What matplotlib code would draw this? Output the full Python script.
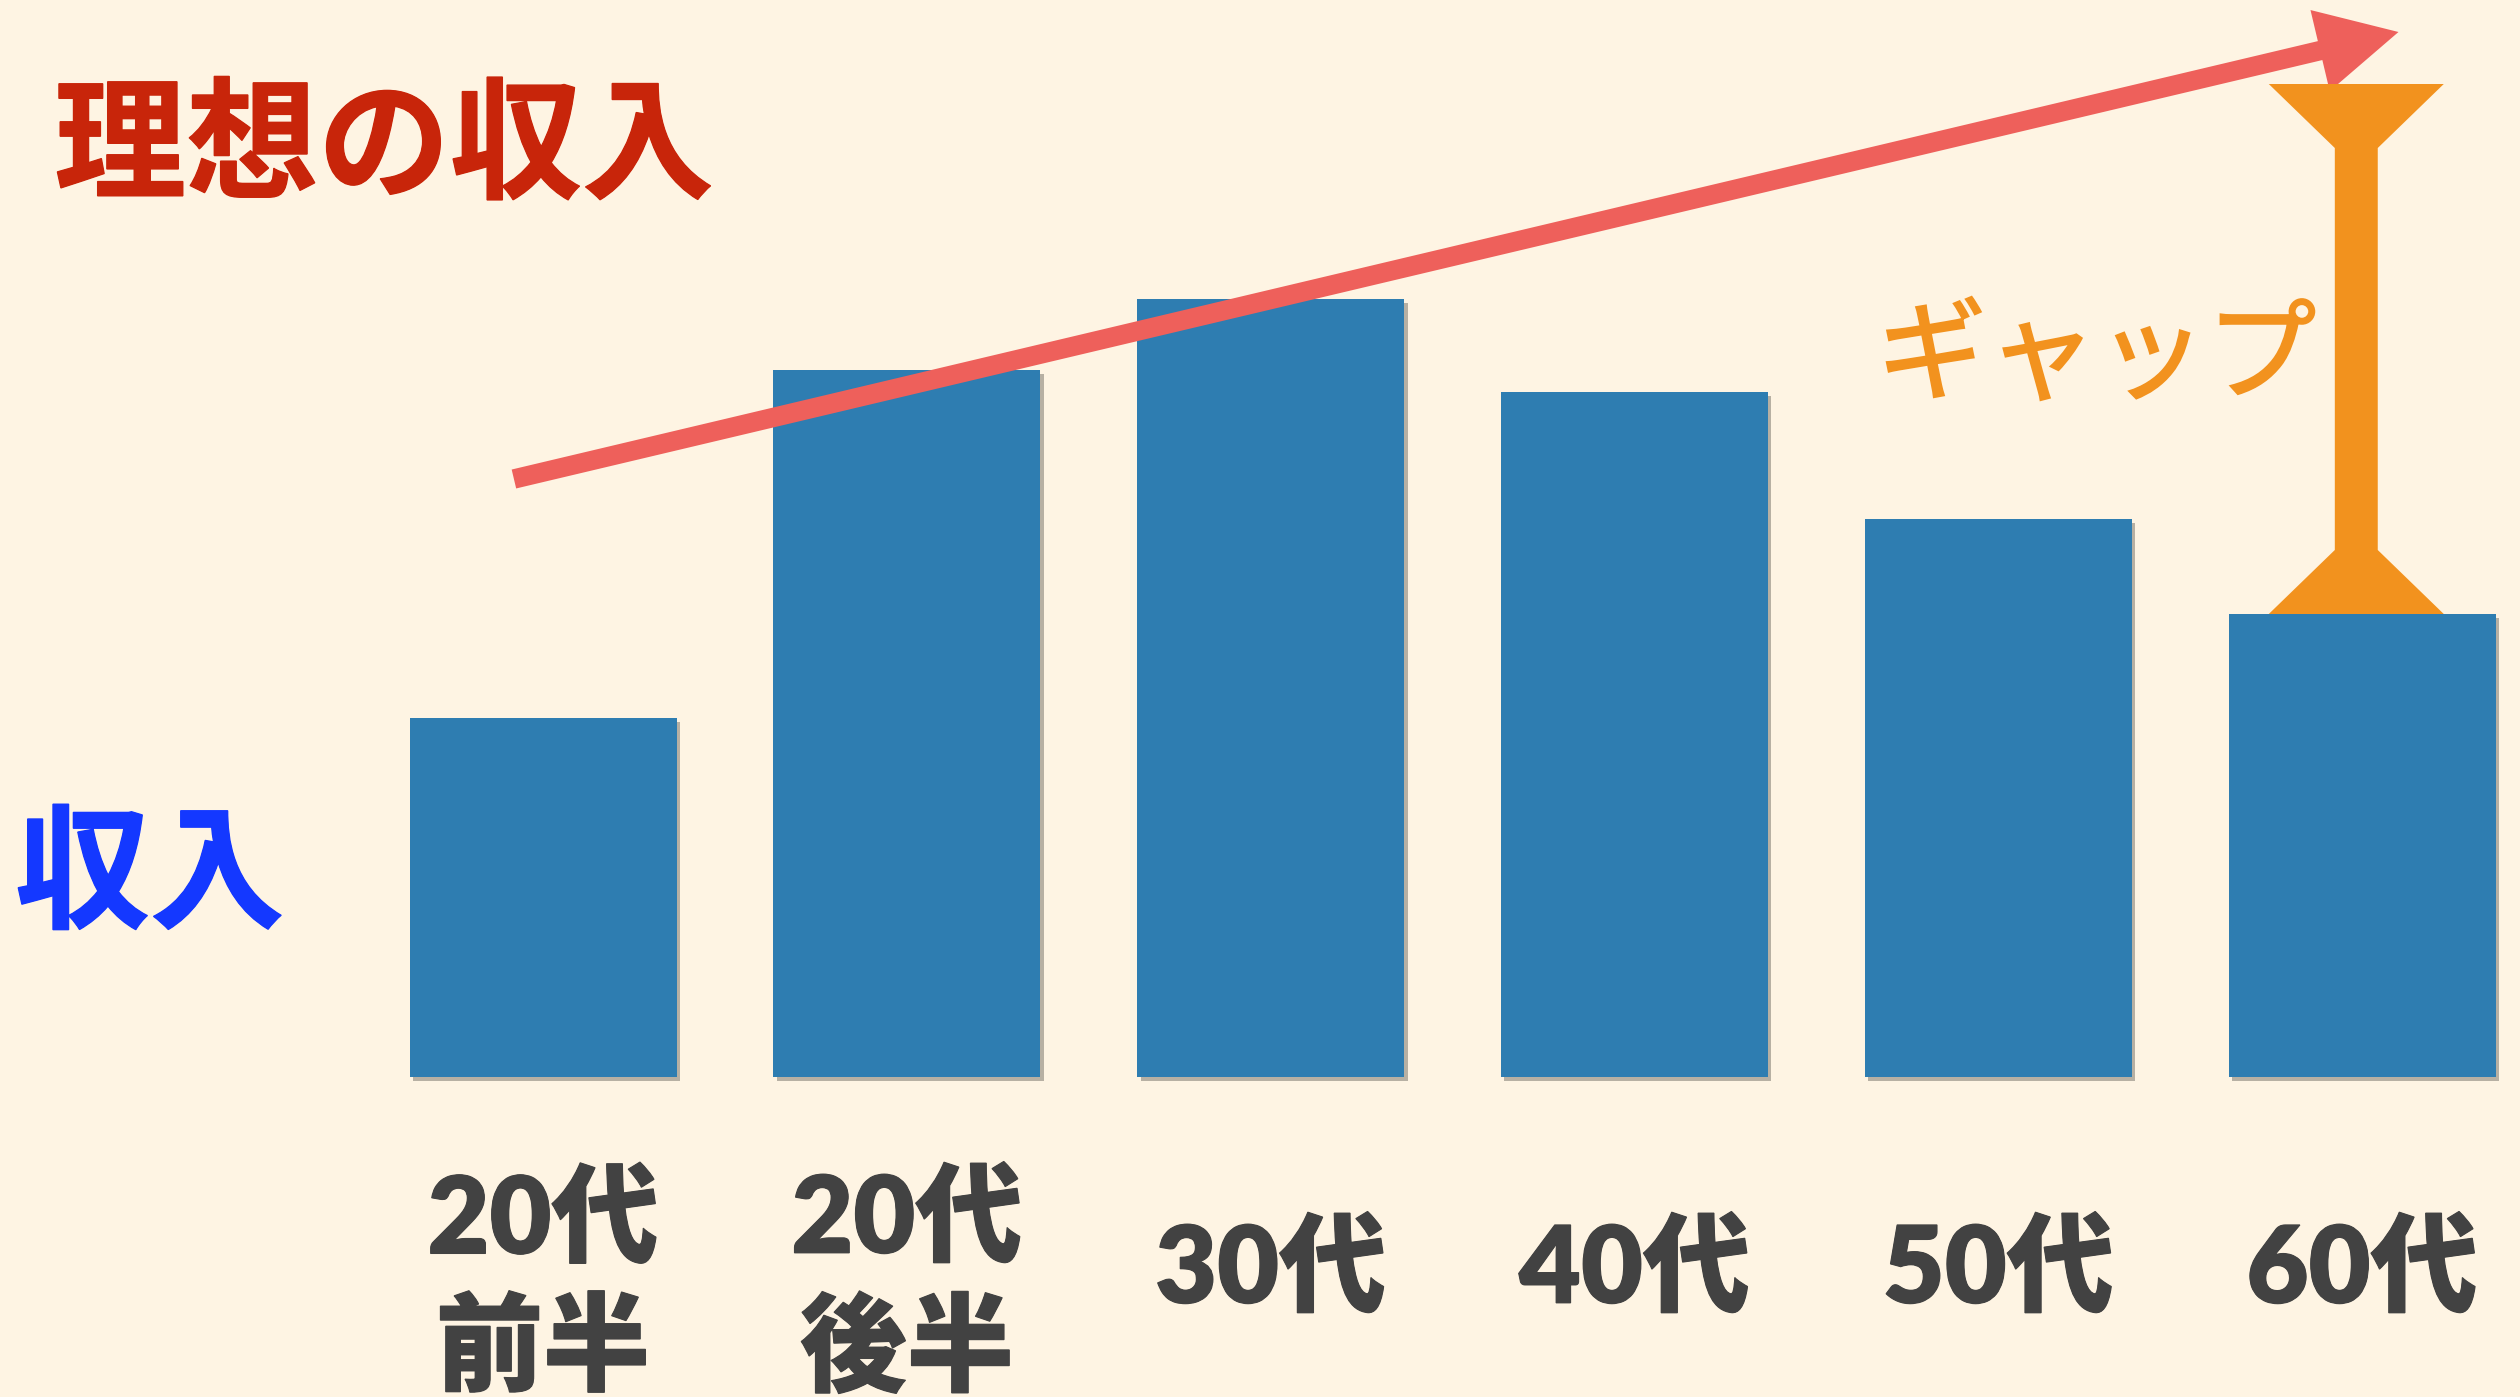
import matplotlib
matplotlib.use("Agg")
import matplotlib.pyplot as plt
from matplotlib.patches import FancyArrowPatch, Polygon, ArrowStyle
import matplotlib.patheffects as pe

plt.rcParams['font.family'] = ['Noto Sans CJK JP', 'DejaVu Sans']

# ---- data ----
categories = ["20代\n前半", "20代\n後半", "30代", "40代", "50代", "60代"]
income = [35.9, 70.7, 77.8, 68.5, 55.8, 46.3]
ideal_start = 59.8      # ideal income trend at the first category
ideal_end = 104.5       # ideal income trend at the arrow tip
ideal_x_start = -0.08
ideal_x_end = 5.10
ideal_60s = 99.3        # ideal income for the 60s (top of the gap)

title_text = "理想の収入"
ylabel_text = "収入"
gap_text = "ギャップ"

# ---- style ----
BG = '#FEF4E3'
BAR = '#2E7DB1'
ARROW = '#EE605B'
ORANGE = '#F2921E'
TITLE = '#C8250A'
BLUE = '#1438FF'
LABEL = '#424242'

fig = plt.figure(figsize=(25.2, 13.97), dpi=100, facecolor=BG)
ax = fig.add_axes([0, 0, 1, 1])
ax.set_facecolor(BG)
ax.set_xlim(-1.4926, 5.434)
ax.set_ylim(-32.0, 107.7)
ax.axis('off')

x = list(range(len(categories)))
bars = ax.bar(x, income, width=0.734, color=BAR, zorder=2)
for b in bars:
    b.set_path_effects([pe.SimplePatchShadow(offset=(2.5, -3), shadow_rgbFace='black', alpha=0.28),
                        pe.Normal()])

def thick(color, w):
    return [pe.withStroke(linewidth=w, foreground=color, joinstyle='miter', capstyle='butt')]

# category labels
for xi, lab in zip(x, categories):
    y = -20.7 if "\n" in lab else -19.2
    ax.text(xi, y, lab, ha='center', va='center', fontsize=77, fontweight='heavy',
            family=['Lato', 'Noto Sans CJK JP', 'DejaVu Sans'],
            color=LABEL, linespacing=1.32, multialignment='center',
            path_effects=thick(LABEL, 0.8))

# ideal trend arrow
arrow = FancyArrowPatch((ideal_x_start, ideal_start), (ideal_x_end, ideal_end),
                        arrowstyle=ArrowStyle('Simple', head_length=58, head_width=60, tail_width=14),
                        mutation_scale=1, shrinkA=0, shrinkB=0, lw=0, color=ARROW, zorder=3)
ax.add_patch(arrow)

# gap I-beam at 60s
gx = x[-1] - 0.016
fw = 0.481 / 2   # flange half width
sw = 0.118 / 2   # stem half width
fh = 6.4         # flange height
bot = income[-1]
top = ideal_60s
verts = [
    (gx - fw, top), (gx + fw, top), (gx + sw, top - fh),
    (gx + sw, bot + fh), (gx + fw, bot), (gx - fw, bot),
    (gx - sw, bot + fh), (gx - sw, top - fh),
]
ax.add_patch(Polygon(verts, closed=True, color=ORANGE, lw=0, zorder=4))

# texts
fig.text(0.0215, 0.893, title_text, ha='left', va='center', fontsize=95,
         fontweight='bold', color=TITLE, path_effects=thick(TITLE, 0.9))
fig.text(0.006, 0.371, ylabel_text, ha='left', va='center', fontsize=97,
         fontweight='bold', color=BLUE, path_effects=thick(BLUE, 0.9))
fig.text(0.832, 0.743, gap_text, ha='center', va='center', fontsize=79,
         color=ORANGE, path_effects=thick(ORANGE, 1.4))

fig.savefig('out.png', dpi=100, facecolor=BG)
